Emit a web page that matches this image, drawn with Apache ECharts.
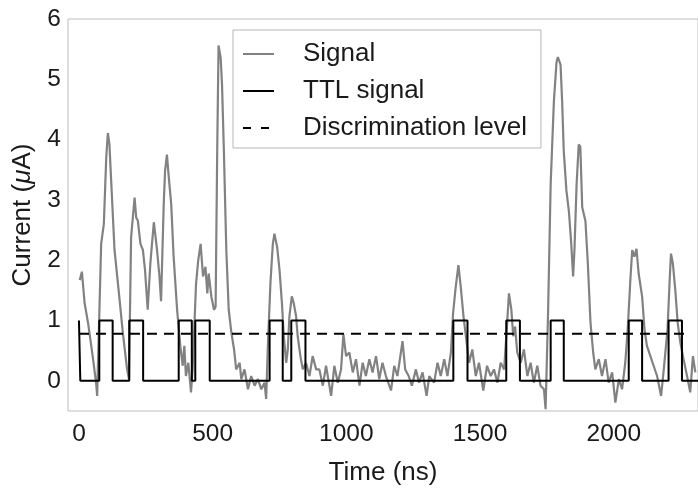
<!DOCTYPE html>
<html>
<head>
<meta charset="utf-8">
<script src="https://cdn.jsdelivr.net/npm/echarts@6/dist/echarts.min.js"></script>
<style>
html,body{margin:0;padding:0;background:#fff;}
#chart{width:698px;height:491px;}
</style>
</head>
<body>
<div id="chart"></div>
<script>
// ---- data ----
const signalTime = [3,11,21,34,46,56,65,68,83,93,102,108,114,118,133,152,164,180,187,195,208,214,220,230,239,247,257,267,280,285,292,301,307,317,322,329,336,345,354,367,379,388,394,400,409,419,425,438,446,455,464,473,480,485,495,505,511,517,522,530,535,542,551,560,570,580,588,601,607,619,632,644,657,669,682,694,700,706,716,725,731,741,750,759,766,775,781,787,796,803,812,818,828,837,849,862,874,887,899,912,924,943,955,968,980,989,999,1011,1024,1036,1049,1061,1073,1086,1098,1111,1123,1135,1148,1167,1179,1191,1210,1220,1233,1245,1260,1272,1285,1300,1310,1328,1341,1353,1366,1378,1391,1399,1409,1419,1428,1438,1447,1459,1471,1484,1496,1512,1526,1540,1552,1565,1577,1590,1599,1608,1617,1624,1631,1639,1652,1664,1677,1689,1701,1714,1726,1739,1745,1754,1764,1776,1786,1791,1801,1807,1813,1823,1832,1841,1848,1853,1861,1869,1875,1882,1894,1903,1913,1923,1931,1944,1956,1969,1981,1994,2006,2019,2031,2043,2052,2062,2069,2077,2085,2093,2106,2115,2124,2137,2149,2162,2177,2187,2201,2209,2214,2221,2230,2239,2249,2261,2274,2286,2296,2305];
const signalValue = [1.67,1.81,1.29,0.96,0.58,0.25,-0.08,-0.25,2.27,2.6,3.7,4.11,3.92,3.54,2.17,1.34,0.8,0.19,0.03,2.38,3.04,2.71,2.66,2.27,2.17,1.84,1.18,1.95,2.63,2.44,2.17,1.73,1.32,2.93,3.48,3.75,3.37,2.93,2.06,1.18,0.58,0.25,0.58,0.08,0.3,-0.19,0.19,1.62,2.0,2.27,1.73,1.89,1.45,1.78,1.4,1.18,1.23,3.81,5.56,5.35,4.91,3.81,2.17,1.18,0.8,0.52,0.19,0.3,0.03,0.19,-0.14,0.08,-0.08,0.03,-0.14,-0.03,-0.3,0.52,1.62,2.27,2.44,2.22,1.84,1.29,0.74,0.3,0.52,1.07,1.4,1.29,1.07,0.74,0.41,0.19,0.3,0.08,0.41,0.19,0.19,-0.08,0.25,-0.25,0.25,-0.03,0.19,0.77,0.41,0.47,0.14,0.36,-0.08,0.3,0.08,0.36,0.14,0.41,0.03,0.3,0.08,-0.16,0.25,0.08,0.66,0.19,0.08,-0.08,0.19,-0.03,0.14,-0.25,0.08,-0.03,0.3,0.08,0.36,0.08,0.47,1.12,1.56,1.92,1.55,1.07,0.74,0.3,0.52,0.08,0.3,-0.16,0.25,0.08,0.19,-0.03,0.3,0.19,0.8,1.45,1.18,0.74,0.9,0.47,0.3,0.52,0.08,0.3,-0.03,0.25,-0.08,-0.14,-0.47,1.07,3.26,4.63,5.29,5.37,5.24,4.63,3.81,3.15,2.82,2.27,1.73,2.17,3.26,3.92,3.88,2.88,2.65,1.95,0.96,0.47,0.19,0.36,0.08,0.36,-0.03,0.14,-0.36,0.03,-0.14,0.3,0.85,1.67,2.17,2.06,2.19,1.78,1.4,0.85,0.58,0.41,0.25,0.08,-0.25,0.19,0.85,1.67,2.11,1.95,1.51,0.96,0.63,0.36,0.08,-0.19,0.41,0.14];
const ttlTime  = [0,5,76,126,188,240,373,422,435,489,713,762,794,847,1400,1453,1598,1649,1764,1813,2056,2106,2205,2255,2330];
const ttlLevel = [1,0,1,0,1,0,1,0,1,0,1,0,1,0,1,0,1,0,1,0,1,0,1,0,0];
const discLevel = 0.78;
const discTime = [0,2280];
const xTicks = [0,500,1000,1500,2000];
const yTicks = [0,1,2,3,4,5,6];
const seriesNames = ['Signal','TTL signal','Discrimination level'];

const FONT = '"Liberation Sans", Arial, Helvetica, sans-serif';
const INK = '#1a1a1a';
const chart = echarts.init(document.getElementById('chart'), null, {renderer:'canvas'});
chart.setOption({
  animation:false,
  backgroundColor:'#fff',
  grid:{left:68, right:-2, top:19, bottom:76.5, show:true, borderColor:'#bdbdbd', borderWidth:1, backgroundColor:'transparent'},
  xAxis:{
    type:'value', min:-41, max:2315,
    name:'Time (ns)', nameLocation:'middle', nameGap:49,
    nameTextStyle:{fontFamily:FONT, fontSize:26, color:INK},
    axisLine:{show:false}, axisTick:{show:false}, splitLine:{show:false},
    axisLabel:{customValues:xTicks, fontFamily:FONT, fontSize:24.5, color:INK, margin:11,
      formatter:v=>String(v)}
  },
  yAxis:{
    type:'value', min:-0.5, max:6,
    name:'Current ({i|μ}A)', nameLocation:'middle', nameGap:32,
    nameTextStyle:{fontFamily:FONT, fontSize:26, color:INK,
      rich:{i:{fontFamily:FONT, fontSize:26, fontStyle:'italic', color:INK}}},
    axisLine:{show:false}, axisTick:{show:false}, splitLine:{show:false},
    axisLabel:{customValues:yTicks, fontFamily:FONT, fontSize:24.5, color:INK, margin:7,
      formatter:v=>String(v)}
  },
  legend:{
    orient:'vertical', left:233, top:30, padding:[11,14,7,9], itemGap:11,
    itemWidth:31, itemHeight:14,
    backgroundColor:'#fff', borderColor:'#b5b5b5', borderWidth:1,
    itemStyle:{opacity:0},
    textStyle:{fontFamily:FONT, fontSize:26, color:INK, padding:[0,0,0,24]},
    data:[
      {name:seriesNames[0], itemStyle:{opacity:0}, lineStyle:{color:'#828282', width:2}},
      {name:seriesNames[1], itemStyle:{opacity:0}, lineStyle:{color:'#000', width:2}},
      {name:seriesNames[2], itemStyle:{opacity:0}, lineStyle:{color:'#000', width:2, type:[8,10]}}
    ]
  },
  series:[
    {name:seriesNames[0], type:'line', symbol:'none', z:2,
     data:signalTime.map((t,i)=>[t, signalValue[i]]),
     lineStyle:{color:'#828282', width:2.2}, itemStyle:{color:'#828282'}},
    {name:seriesNames[1], type:'line', symbol:'none', step:'end', z:3,
     data:ttlTime.map((t,i)=>[t, ttlLevel[i]]),
     lineStyle:{color:'#000', width:2}, itemStyle:{color:'#000'}},
    {name:seriesNames[2], type:'line', symbol:'none', z:4,
     data:discTime.map(t=>[t, discLevel]),
     lineStyle:{color:'#000', width:2, type:[10,7]}, itemStyle:{color:'#000'}}
  ]
});
</script>
</body>
</html>
